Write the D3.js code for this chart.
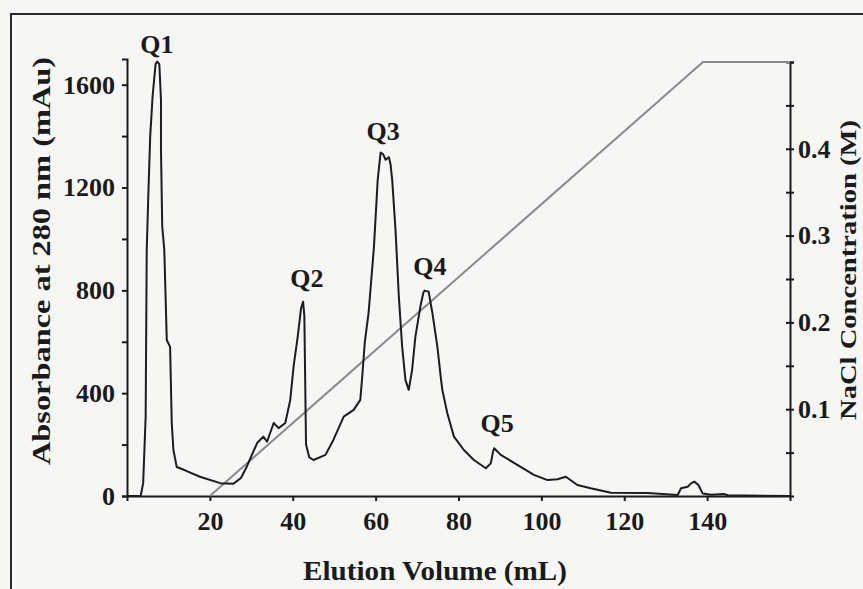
<!DOCTYPE html>
<html>
<head>
<meta charset="utf-8">
<script src="https://cdn.jsdelivr.net/npm/d3@7"></script>
<style>
  body { margin: 0; background: #f6f6f4; }
  text { font-family: "Liberation Serif", "Times New Roman", serif; font-weight: bold; fill: #1a1a1a; }
</style>
</head>
<body>
<script>

// chromatogram trace: elution volume (mL) and A280 (mAu)
var volume = [0, 3.3, 3.9, 4.5, 4.76, 5.2, 5.6, 6.2, 6.9, 7.3, 7.8, 8.2, 8.2, 8.5, 9.0, 9.6, 10.4, 10.8, 11.2, 12.0,
  14, 17.6, 22.5, 25.7, 27.5, 28.9, 31.4, 32.9, 33.8, 35.4, 36.6, 38.2, 39.4, 40.2, 41.2, 42.0, 42.5, 42.8, 43.0, 43.2,
  44.0, 45.0, 47.9, 49.8, 52.3, 54.7, 56.3, 56.7, 57.4, 58.3, 59.6, 60.5, 61.2, 61.8, 62.4, 63.2, 63.6, 64.0, 64.8,
  65.6, 66.4, 67.2, 68.0, 68.8, 69.6, 70.8, 71.5, 71.8, 72.8, 73.7, 74.9, 75.8, 76.1, 77.3, 78.9, 81.3, 83.7, 86.6,
  87.8, 88.3, 88.6, 90.2, 94.2, 98.2, 101.5, 103.9, 105.9, 108.7, 111.9, 116.8, 125.6, 132.9, 133.7, 135.3, 136.2,
  136.9, 137.9, 138.9, 141, 144, 145, 160];
var absorbance = [0, 0, 50, 308, 957, 1200, 1400, 1560, 1680, 1690, 1680, 1540, 1350, 1050, 957, 607, 580, 284, 179, 113,
  100, 75, 50, 48, 70, 114, 206, 231, 211, 284, 264, 284, 374, 503, 620, 730, 756, 700, 451, 200,
  150, 140, 160, 218, 309, 335, 374, 451, 600, 712, 970, 1230, 1336, 1330, 1308, 1318, 1290, 1230, 1035,
  776, 581, 451, 413, 490, 620, 737, 790, 799, 795, 712, 581, 451, 413, 322, 231, 179, 140, 108,
  127, 170, 186, 160, 121, 82, 62, 65, 75, 43, 30, 13, 12, 4, 30, 36, 50,
  56, 43, 10, 5, 8, 3, 0];

// NaCl gradient (M)
var gradVolume = [20, 139, 160];
var gradNaCl = [0, 0.5, 0.5];

// peak labels
var peakNames = ["Q1", "Q2", "Q3", "Q4", "Q5"];
var peakVol = [7.2, 43.4, 61.8, 73.1, 89.3];
var peakAbs = [1724, 813, 1385, 860, 249];

var xTicks = [20, 40, 60, 80, 100, 120, 140];
var yTicks = [0, 400, 800, 1200, 1600];
var yMinor = [200, 600, 1000, 1400];
var y2Ticks = [0.1, 0.2, 0.3, 0.4];
var y2Minor = [0.05, 0.15, 0.25, 0.35, 0.45, 0.5];

var width = 863, height = 589;

var svg = d3.select("body").append("svg")
  .attr("width", width)
  .attr("height", height);

svg.append("rect")
  .attr("width", width).attr("height", height)
  .attr("fill", "#f6f6f4");

// outer frame (right and bottom edges run off the picture)
svg.append("rect")
  .attr("x", 11).attr("y", 14)
  .attr("width", 870).attr("height", 600)
  .attr("fill", "none")
  .attr("stroke", "#2a2a2a")
  .attr("stroke-width", 2);

var x = d3.scaleLinear().domain([0, 160]).range([127, 790]);
var y = d3.scaleLinear().domain([0, 1700]).range([496, 59]);
var y2 = d3.scaleLinear().domain([0, 0.5]).range([496, 62]);

// stretch text a bit, the scanned figure is wider than the font
function stretch(sel, len) {
  sel.attr("textLength", len).attr("lengthAdjust", "spacingAndGlyphs");
}

// x axis
var gx = svg.append("g").attr("transform", "translate(0,496)")
  .call(d3.axisBottom(x).tickValues(xTicks).tickFormat(d3.format("d"))
    .tickSizeOuter(0).tickSize(5).tickPadding(11));
gx.selectAll("text").style("font-size", "26px");

// left axis
var gy = svg.append("g").attr("transform", "translate(127,0)")
  .call(d3.axisLeft(y).tickValues(yTicks).tickFormat(d3.format("d"))
    .tickSizeOuter(0).tickSize(5).tickPadding(7));
gy.selectAll("text").style("font-size", "26px");
svg.append("g").attr("transform", "translate(127,0)")
  .call(d3.axisLeft(y).tickValues(yMinor).tickSize(5).tickFormat(""))
  .select(".domain").remove();

// right axis, ticks cross the line
var gy2 = svg.append("g").attr("class", "right").attr("transform", "translate(790,0)")
  .call(d3.axisRight(y2).tickValues(y2Ticks).tickFormat(d3.format(".1f"))
    .tickSizeOuter(0).tickSize(4).tickPadding(4));
gy2.selectAll("text").style("font-size", "26px");
svg.append("g").attr("class", "right").attr("transform", "translate(790,0)")
  .call(d3.axisRight(y2).tickValues(y2Minor).tickSize(4).tickFormat(""))
  .select(".domain").remove();
svg.selectAll(".right .tick line").attr("x1", -4);

svg.selectAll(".domain").attr("stroke", "#1a1a1a").attr("stroke-width", 2);
svg.selectAll(".tick line").attr("stroke", "#1a1a1a").attr("stroke-width", 2);

// gradient line
var gradLine = d3.line()
  .x(function(d, i) { return x(gradVolume[i]); })
  .y(function(d, i) { return y2(gradNaCl[i]); });
svg.append("path")
  .datum(gradVolume)
  .attr("d", gradLine)
  .attr("fill", "none")
  .attr("stroke", "#8a8a8a")
  .attr("stroke-width", 2);

// A280 trace
var trace = d3.line()
  .x(function(d, i) { return x(volume[i]); })
  .y(function(d, i) { return y(absorbance[i]); });
svg.append("path")
  .datum(volume)
  .attr("d", trace)
  .attr("fill", "none")
  .attr("stroke", "#1c1c1c")
  .attr("stroke-width", 2)
  .attr("stroke-linejoin", "round");

// peak names
svg.selectAll(".peak")
  .data(peakNames)
  .enter()
  .append("text")
  .attr("class", "peak")
  .attr("x", function(d, i) { return x(peakVol[i]); })
  .attr("y", function(d, i) { return y(peakAbs[i]); })
  .attr("text-anchor", "middle")
  .style("font-size", "26px")
  .text(function(d) { return d; });

// axis titles
svg.append("text")
  .attr("x", 435).attr("y", 580)
  .attr("text-anchor", "middle")
  .style("font-size", "27px")
  .text("Elution Volume (mL)")
  .call(stretch, 264);

svg.append("text")
  .attr("transform", "translate(41,261) rotate(-90)")
  .attr("text-anchor", "middle")
  .attr("dy", "0.35em")
  .style("font-size", "26px")
  .text("Absorbance at 280 nm (mAu)")
  .call(stretch, 408);

svg.append("text")
  .attr("transform", "translate(848,270) rotate(-90)")
  .attr("text-anchor", "middle")
  .attr("dy", "0.35em")
  .style("font-size", "24px")
  .text("NaCl Concentration (M)")
  .call(stretch, 300);

</script>
</body>
</html>
